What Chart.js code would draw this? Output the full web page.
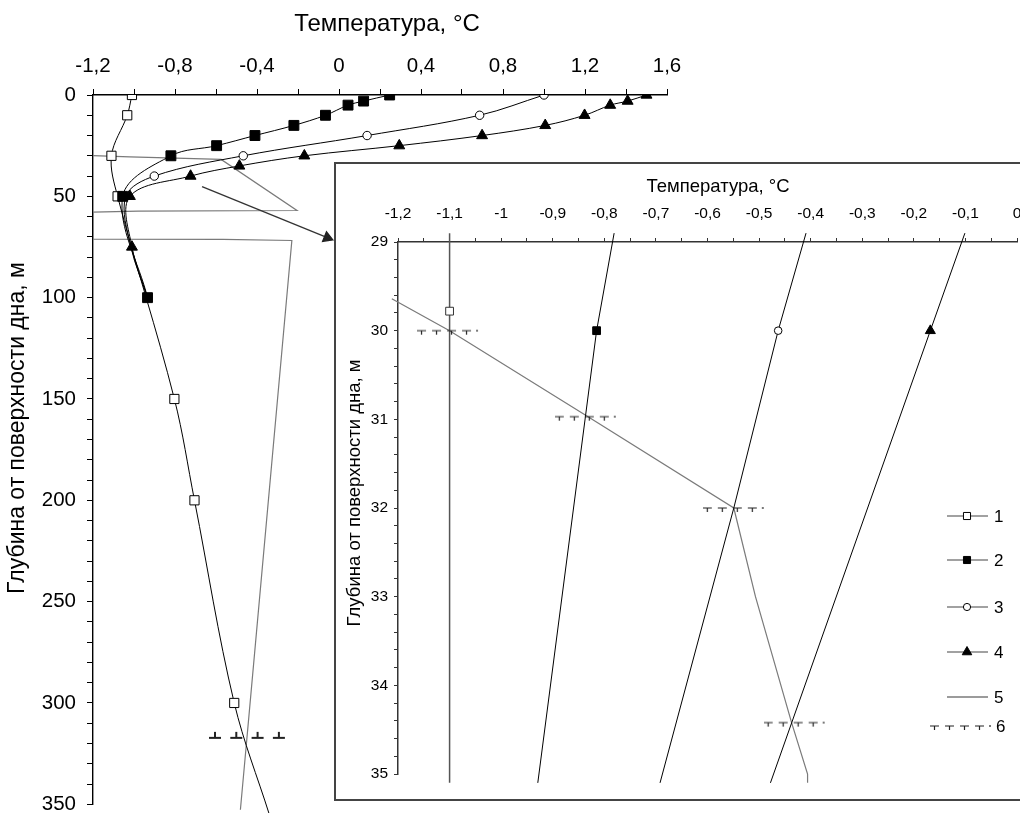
<!DOCTYPE html>
<html>
<head>
<meta charset="utf-8">
<script src="https://cdn.jsdelivr.net/npm/chart.js@4.4.1/dist/chart.umd.min.js"></script>
<style>
  html, body { margin: 0; padding: 0; background: #fff; overflow: hidden; }
  #wrap { position: relative; width: 1020px; height: 813px; overflow: hidden; }
  #main { position: absolute; left: 0; top: 0; }
  #insetBox { position: absolute; left: 334px; top: 162px; width: 720px; height: 635px;
              border: 2px solid #444; background: #fff; overflow: hidden; }
  #inset { display: block; }
</style>
</head>
<body>
<div id="wrap">
  <!-- canvas is a little taller than the view: the bottom tick label overhang falls outside -->
  <canvas id="main" width="1020" height="824"></canvas>
  <div id="insetBox"><canvas id="inset" width="720" height="635"></canvas></div>
</div>
<script>
// ---- main chart: depth below sea floor (m) vs temperature (°C)
const depth1 = [0, 10, 30, 50, 150, 200, 300, 355];
const temp1 = [-1.01, -1.033, -1.11, -1.08, -0.803, -0.705, -0.511, -0.34];
const depth2 = [0, 3, 5, 10, 15, 20, 25, 30, 50, 100];
const temp2 = [0.247, 0.12, 0.044, -0.066, -0.22, -0.41, -0.597, -0.82, -1.055, -0.934];
const depth3 = [0, 10, 20, 30, 40, 50, 75, 100];
const temp3 = [1.0, 0.686, 0.137, -0.467, -0.901, -1.04, -1.015, -0.934];
const depth4 = [0, 3, 5, 10, 15, 20, 25, 30, 35, 40, 50, 75, 100];
const temp4 = [1.5, 1.408, 1.323, 1.198, 1.006, 0.698, 0.294, -0.169, -0.486, -0.724, -1.02, -1.01, -0.934];
const depth5 = [29.9, 30.5, 31.8, 57.0, 57.3, 57.8, 71.1, 71.2, 71.8, 317.2, 352.7];
const temp5 = [-1.2, -1.02, -0.575, -0.205, -0.98, -1.2, -1.2, -0.565, -0.23, -0.449, -0.481];
const depth6 = [317.2];
const temp6 = [-0.449];
const arrowDepth = [45.2, 70.4];
const arrowTemp = [-0.668, -0.057];

// ---- inset: 29-35 m
const insetDepth1 = [28.9, 29.78, 35.1];
const insetTemp1 = [-1.1, -1.1, -1.1];
const insetDepth2 = [28.9, 30, 35.1];
const insetTemp2 = [-0.781, -0.815, -0.929];
const insetDepth3 = [28.9, 30, 32, 35.1];
const insetTemp3 = [-0.409, -0.463, -0.549, -0.692];
const insetDepth4 = [28.9, 30, 35.1];
const insetTemp4 = [-0.101, -0.168, -0.478];
const insetDepth5 = [29.64, 30.0, 30.95, 32.0, 33.0, 34.42, 35.0, 35.1];
const insetTemp5 = [-1.212, -1.1, -0.837, -0.549, -0.507, -0.437, -0.406, -0.406];
const insetDepth6 = [30.0, 30.97, 32.0, 34.42];
const insetTemp6 = [-1.103, -0.836, -0.549, -0.431];

const legendLabels = ['1', '2', '3', '4', '5', '6'];
const xTitle = 'Температура, °C';
const yTitle = 'Глубина от поверхности дна, м';

const FONT = "'Liberation Sans', Arial, sans-serif";

function pts(xs, ys) {
  return xs.map((x, i) => ({ x: x, y: ys[i] }));
}

function commaLabel(v) {
  return String(Math.round(v * 10) / 10).replace('.', ',');
}

function isStep(v, step) {
  const k = v / step;
  return Math.abs(k - Math.round(k)) < 1e-6;
}

// "6" mark: short dashes with little stems
function makeTicks(width, segW, gap, up, lw, dot) {
  const c = document.createElement('canvas');
  c.width = width;
  c.height = 14;
  const g = c.getContext('2d');
  g.strokeStyle = '#222';
  g.fillStyle = '#222';
  g.lineWidth = lw;
  for (let i = 0; i < 4; i++) {
    const x0 = i * (segW + gap);
    g.beginPath();
    g.moveTo(x0, 7);
    g.lineTo(x0 + segW, 7);
    g.moveTo(x0 + segW / 2, 7);
    g.lineTo(x0 + segW / 2, up ? 1 : 11);
    g.stroke();
  }
  if (dot) g.fillRect(width - 3, 6.4, 2, 1.2);
  return c;
}
const tickUp = makeTicks(76, 12, 9.3, true, 2, false);
const tickDown = makeTicks(62, 9, 6, false, 1.2, true);

function marker(ctx, style, x, y, r, fill) {
  ctx.beginPath();
  if (style === 'rect') {
    const s = r * Math.SQRT1_2;
    ctx.rect(x - s, y - s, 2 * s, 2 * s);
  } else if (style === 'circle') {
    ctx.arc(x, y, r, 0, Math.PI * 2);
  } else {
    ctx.moveTo(x, y - r);
    ctx.lineTo(x + r * 0.866, y + r / 2);
    ctx.lineTo(x - r * 0.866, y + r / 2);
    ctx.closePath();
  }
  ctx.fillStyle = fill;
  ctx.fill();
  ctx.lineWidth = 1;
  ctx.strokeStyle = '#000';
  ctx.stroke();
}

function radii(n, r, hidden) {
  return Array.from({ length: n }, (_, i) => (hidden.includes(i) ? 0 : r));
}

// axis titles placed by hand (the original sits them a bit off-centre)
function titles(items) {
  return {
    id: 'axisTitles',
    afterDraw(chart) {
      const ctx = chart.ctx;
      ctx.save();
      ctx.fillStyle = '#000';
      ctx.textAlign = 'center';
      ctx.textBaseline = 'middle';
      items.forEach((t) => {
        ctx.save();
        ctx.translate(t.x, t.y);
        if (t.rot) ctx.rotate(-Math.PI / 2);
        ctx.font = t.size + 'px ' + FONT;
        ctx.fillText(t.text, 0, 0);
        ctx.restore();
      });
      ctx.restore();
    }
  };
}

const base = {
  responsive: false,
  animation: false,
  events: [],
  plugins: { legend: { display: false }, tooltip: { enabled: false } }
};

// ---------- main chart
new Chart(document.getElementById('main'), {
  type: 'scatter',
  data: {
    datasets: [
      { data: pts(temp5, depth5), showLine: true, borderColor: '#7a7a7a', borderWidth: 1.2,
        pointRadius: 0, tension: 0, order: 6, clip: { left: 0, top: 0, right: 0, bottom: 10 } },
      { data: pts(temp1, depth1), showLine: true, borderColor: '#000', borderWidth: 1, tension: 0.35,
        pointStyle: 'rect', pointRadius: radii(depth1.length, 6.5, [depth1.length - 1]),
        pointBackgroundColor: '#fff', pointBorderColor: '#000', pointBorderWidth: 1, order: 5,
        clip: { left: 0, top: 0, right: 0, bottom: 10 } },
      { data: pts(temp2, depth2), showLine: true, borderColor: '#000', borderWidth: 1, tension: 0.35,
        pointStyle: 'rect', pointRadius: 7, pointBackgroundColor: '#000', pointBorderColor: '#000', order: 4 },
      { data: pts(temp3, depth3), showLine: true, borderColor: '#000', borderWidth: 1, tension: 0.35,
        pointStyle: 'circle', pointRadius: radii(depth3.length, 4.2, [5, 6, 7]),
        pointBackgroundColor: '#fff', pointBorderColor: '#000', pointBorderWidth: 1, order: 3 },
      { data: pts(temp4, depth4), showLine: true, borderColor: '#000', borderWidth: 1, tension: 0.35,
        pointStyle: 'triangle', pointRadius: radii(depth4.length, 6.3, [depth4.length - 1]),
        pointBackgroundColor: '#000', pointBorderColor: '#000', order: 2 },
      { data: pts(arrowTemp, arrowDepth), showLine: true, borderColor: '#333', borderWidth: 1.3, tension: 0,
        pointStyle: 'triangle', pointRadius: [0, 6], pointRotation: 112,
        pointBackgroundColor: '#222', pointBorderColor: '#222', order: 1 },
      { data: pts(temp6, depth6), showLine: false, pointStyle: tickUp, pointRadius: 5, order: 0 }
    ]
  },
  options: Object.assign({}, base, {
    layout: { autoPadding: false, padding: { left: 0, top: 0, right: 353, bottom: 0 } },
    scales: {
      x: {
        type: 'linear', position: 'top', min: -1.2, max: 1.6,
        afterFit(s) { s.height = 95; },
        border: { display: true, color: '#000', width: 1.4 },
        grid: { drawOnChartArea: false, drawTicks: true, tickLength: 6, color: '#000' },
        ticks: {
          stepSize: 0.2, autoSkip: false, maxRotation: 0, padding: 10, color: '#000',
          font: { family: FONT, size: 20.5 },
          callback: (v) => (isStep(v, 0.4) ? commaLabel(v) : '')
        }
      },
      y: {
        type: 'linear', reverse: true, min: 0, max: 350,
        afterFit(s) { s.width = 93; },
        border: { display: true, color: '#000', width: 1.4 },
        grid: { drawOnChartArea: false, drawTicks: true, tickLength: 6, color: '#000' },
        ticks: {
          stepSize: 10, autoSkip: false, padding: 11, color: '#000',
          font: { family: FONT, size: 20.5, lineHeight: 0.85 },
          callback: (v) => (isStep(v, 50) ? String(v) : '')
        }
      }
    }
  }),
  plugins: [titles([
    { text: xTitle, x: 387, y: 24, size: 24 },
    { text: yTitle, x: 18, y: 428, size: 23, rot: true }
  ])]
});

// ---------- inset legend
const legendLayout = { lineX0: 611, lineX1: 652, markX: 631, labelX: 658, ys: [352, 396, 443, 488, 533, 562] };
const insetLegend = {
  id: 'insetLegend',
  afterDraw(chart) {
    const ctx = chart.ctx;
    const L = legendLayout;
    const styles = [['rect', 5, '#fff'], ['rect', 5, '#000'], ['circle', 3.6, '#fff'], ['triangle', 5.5, '#000']];
    ctx.save();
    legendLabels.forEach((lab, i) => {
      const y = L.ys[i];
      if (i < 5) {
        ctx.beginPath();
        ctx.moveTo(L.lineX0, y);
        ctx.lineTo(L.lineX1, y);
        ctx.strokeStyle = i < 4 ? '#444' : '#7a7a7a';
        ctx.lineWidth = i < 4 ? 1.2 : 1.4;
        ctx.stroke();
        if (i < 4) marker(ctx, styles[i][0], L.markX, y, styles[i][1], styles[i][2]);
      } else {
        ctx.drawImage(tickDown, 594, y - 7);
      }
      ctx.fillStyle = '#000';
      ctx.font = '17px ' + FONT;
      ctx.textAlign = 'left';
      ctx.textBaseline = 'middle';
      ctx.fillText(lab, i < 5 ? L.labelX : L.labelX + 2, y + 1);
    });
    ctx.restore();
  }
};

// ---------- inset chart
const insetClip = { left: 10, top: 12, right: 0, bottom: 12 };
new Chart(document.getElementById('inset'), {
  type: 'scatter',
  data: {
    datasets: [
      { data: pts(insetTemp5, insetDepth5), showLine: true, borderColor: '#7a7a7a', borderWidth: 1.2,
        pointRadius: 0, tension: 0, order: 6, clip: insetClip },
      { data: pts(insetTemp1, insetDepth1), showLine: true, borderColor: '#555', borderWidth: 1.5, tension: 0,
        pointStyle: 'rect', pointRadius: [0, 5.5, 0], pointBackgroundColor: '#fff',
        pointBorderColor: '#333', pointBorderWidth: 1, order: 5, clip: insetClip },
      { data: pts(insetTemp2, insetDepth2), showLine: true, borderColor: '#000', borderWidth: 1, tension: 0,
        pointStyle: 'rect', pointRadius: [0, 5.5, 0], pointBackgroundColor: '#000',
        pointBorderColor: '#000', order: 4, clip: insetClip },
      { data: pts(insetTemp3, insetDepth3), showLine: true, borderColor: '#000', borderWidth: 1, tension: 0,
        pointStyle: 'circle', pointRadius: [0, 3.8, 0, 0], pointBackgroundColor: '#fff',
        pointBorderColor: '#000', pointBorderWidth: 1, order: 3, clip: insetClip },
      { data: pts(insetTemp4, insetDepth4), showLine: true, borderColor: '#000', borderWidth: 1, tension: 0,
        pointStyle: 'triangle', pointRadius: [0, 5.8, 0], pointBackgroundColor: '#000',
        pointBorderColor: '#000', order: 2, clip: insetClip },
      { data: pts(insetTemp6, insetDepth6), showLine: false, pointStyle: tickDown, pointRadius: 5, order: 0 }
    ]
  },
  options: Object.assign({}, base, {
    layout: { autoPadding: false, padding: { left: 0, top: 0, right: 39, bottom: 25 } },
    scales: {
      x: {
        type: 'linear', position: 'top', min: -1.2, max: 0,
        afterFit(s) { s.height = 78; },
        border: { display: true, color: '#333', width: 1.5 },
        grid: { drawOnChartArea: false, drawTicks: true, tickLength: 4, color: '#333' },
        ticks: {
          stepSize: 0.05, autoSkip: false, maxRotation: 0, padding: 15, color: '#000',
          font: { family: FONT, size: 15.5 },
          callback: (v) => (isStep(v, 0.1) ? commaLabel(v) : '')
        }
      },
      y: {
        type: 'linear', reverse: true, min: 29, max: 35,
        afterFit(s) { s.width = 62; },
        border: { display: true, color: '#333', width: 1.5 },
        grid: { drawOnChartArea: false, drawTicks: true, tickLength: 4, color: '#333' },
        ticks: {
          stepSize: 0.2, autoSkip: false, padding: 6, color: '#000',
          font: { family: FONT, size: 15.5, lineHeight: 1 },
          callback: (v) => (isStep(v, 1) ? String(Math.round(v)) : '')
        }
      }
    }
  }),
  plugins: [insetLegend, titles([
    { text: xTitle, x: 382, y: 23, size: 18.5 },
    { text: yTitle, x: 19, y: 329, size: 18.5, rot: true }
  ])]
});
</script>
</body>
</html>
